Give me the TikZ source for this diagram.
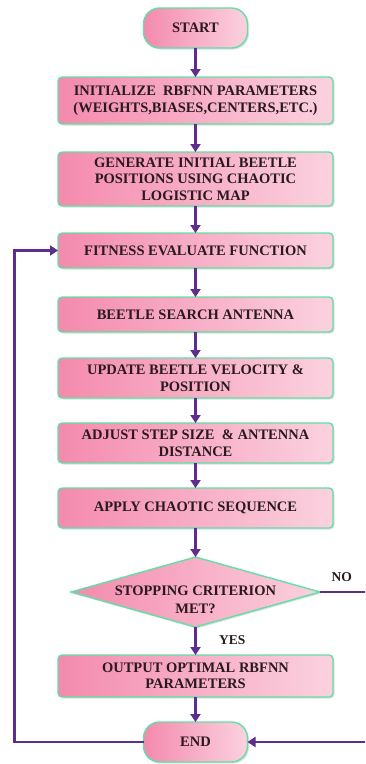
\documentclass[tikz,border=0pt]{standalone}
\usepackage{fontspec}
\setmainfont{Liberation Serif}
\usepackage{xcolor}
\usepackage{tikz}
\usetikzlibrary{positioning, arrows.meta, shapes.geometric, shadows}
\definecolor{pinkA}{HTML}{F48AAE}
\definecolor{pinkB}{HTML}{FBD2DF}
\definecolor{mint}{HTML}{62DFA6}
\definecolor{flow}{HTML}{5E2D8E}
\definecolor{ink}{HTML}{2A1A1E}

\begin{document}
\begin{tikzpicture}[
    node distance=27pt,
    box/.style={draw=mint, line width=1.4pt, rounded corners=4pt, align=center,
                left color=pinkA, right color=pinkB, text=ink,
                font=\bfseries\fontsize{14.5}{16.5}\selectfont,
                minimum width=275pt, minimum height=40pt, inner ysep=0pt, outer sep=0pt,
                drop shadow={opacity=0.25, shadow xshift=1.5pt, shadow yshift=-1.5pt}},
    term/.style={box, rounded corners=16pt, minimum width=104pt},
    decision/.style={diamond, draw=mint, line width=1.4pt,
                left color=pinkA, right color=pinkB,
                minimum width=249pt, minimum height=70pt, inner sep=0pt, outer sep=0pt,
                drop shadow={opacity=0.25, shadow xshift=1.5pt, shadow yshift=-1.5pt}},
    lbl/.style={text=ink, font=\bfseries\fontsize{13.5}{16}\selectfont},
    arr/.style={-{Triangle[width=10pt, length=8pt]}, draw=flow, line width=2.6pt}
  ]
  \clip (0,0) rectangle (365pt,-764pt);
  \node[term] (start) at (195.5pt,-28pt) {START};
  \node[box, below=29pt of start, minimum height=47pt] (init)
       {INITIALIZE\ \ RBFNN PARAMETERS\\(WEIGHTS,BIASES,CENTERS,ETC.)};
  \node[box, below=28pt of init, minimum height=54pt] (gen)
       {GENERATE INITIAL BEETLE\\POSITIONS USING CHAOTIC\\LOGISTIC MAP};
  \node[box, below=of gen, minimum height=35pt] (fit) {FITNESS EVALUATE FUNCTION};
  \node[box, below=29pt of fit, minimum height=35pt] (search) {BEETLE SEARCH ANTENNA};
  \node[box, below=26pt of search] (update) {UPDATE BEETLE VELOCITY \&\\POSITION};
  \node[box, below=25pt of update] (adjust) {ADJUST STEP SIZE\ \ \& ANTENNA\\DISTANCE};
  \node[box, below=25pt of adjust] (chaos) {APPLY CHAOTIC SEQUENCE};
  \node[decision, below=29pt of chaos] (stop) {};
  \node[lbl, font=\bfseries\fontsize{14.5}{18}\selectfont, align=center,
        yshift=-8pt] (stoptext) at (stop) {STOPPING CRITERION\\MET?};
  \node[box, below=28pt of stop, minimum height=42pt] (output)
       {OUTPUT OPTIMAL RBFNN\\PARAMETERS};
  \node[term, below=25pt of output] (end) {END};

  \node[lbl, above right=7pt and 8pt of stop.east] (no) {NO};
  \node[lbl, below right=5pt and 20pt of stop.south] (yes) {YES};

  \draw[arr] (start)  -- (init);
  \draw[arr] (init)   -- (gen);
  \draw[arr] (gen)    -- (fit);
  \draw[arr] (fit)    -- (search);
  \draw[arr] (search) -- (update);
  \draw[arr] (update) -- (adjust);
  \draw[arr] (adjust) -- (chaos);
  \draw[arr] (chaos)  -- (stop);
  \draw[arr] (stop)   -- (output);
  \draw[arr] (output) -- (end);
  \draw[arr] (end.west) -- ++(-129pt,0) |- (fit.west);
  \draw[arr] (stop.east) -- ++(48pt,0) |- (end.east);
\end{tikzpicture}
\end{document}
